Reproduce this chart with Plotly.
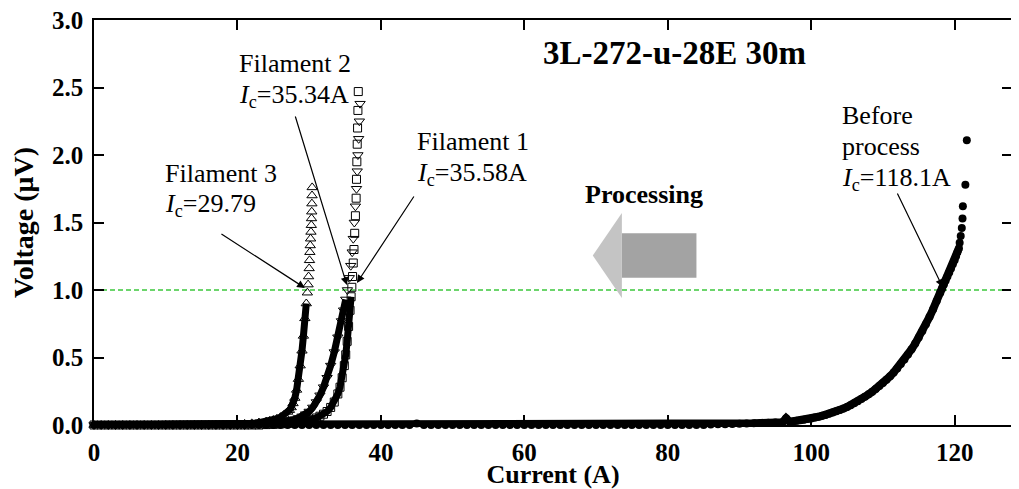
import plotly.graph_objects as go

# ---------------- data ----------------
before_I = [0, 1, 2, 3, 4, 5, 6, 7, 8, 9,
            10, 11, 12, 13, 14, 15, 16, 17, 18, 19,
            20, 21, 22, 23, 24, 25, 26, 27, 28, 29,
            30, 31, 32, 33, 34, 35, 36, 37, 38, 39,
            40, 41, 42, 43, 44, 45, 46, 47, 48, 49,
            50, 51, 52, 53, 54, 55, 56, 57, 58, 59,
            60, 61, 62, 63, 64, 65, 66, 67, 68, 69,
            70, 71, 72, 73, 74, 75, 76, 77, 78, 79,
            80, 81, 82, 83, 84, 85, 86, 87, 88, 89,
            90, 91, 92, 93, 94, 95,
            96, 96.5, 97, 97.5, 98, 98.5, 99, 99.5, 100, 100.5,
            101, 101.5, 102, 102.5, 103, 103.5, 104, 104.5, 105, 105.5,
            106, 106.5, 107, 107.5, 108, 108.5, 109, 109.5, 110, 110.5,
            111, 111.5, 112, 112.5, 113, 113.5, 114, 114.5, 115, 115.5,
            116, 116.5, 117, 117.5, 118,
            118.25, 118.5, 118.75, 119, 119.25, 119.5, 119.75, 120,
            120.2, 120.4, 120.6,
            120.7, 120.85, 121.0, 121.1, 121.15, 121.5, 121.7]
before_V = [0, 0, 0, 0, 0, 0, 0, 0, 0, 0,
            0, 0, 0, 0, 0, 0, 0, 0, 0, 0,
            0, 0, 0, 0, 0, 0, 0, 0, 0, 0,
            0, 0, 0, 0, 0, 0, 0, 0, 0, 0,
            0, 0, 0, 0, 0, 0.012, 0, 0, 0, 0,
            0, 0, 0, 0, 0, 0, 0, 0, 0, 0,
            0, 0, 0, 0, 0, 0, 0, 0, 0, 0,
            0, 0, 0, 0, 0, 0, 0, 0, 0, 0,
            0, 0, 0, 0, 0, 0, 0.004, 0.005, 0.006, 0.008,
            0.009, 0.011, 0.013, 0.015, 0.017, 0.019,
            0.021, 0.05, 0.025, 0.028, 0.031, 0.035, 0.039, 0.044, 0.049, 0.055,
            0.061, 0.068, 0.075, 0.083, 0.092, 0.101, 0.111, 0.122, 0.134, 0.147,
            0.161, 0.176, 0.192, 0.209, 0.227, 0.246, 0.266, 0.288, 0.311, 0.335,
            0.361, 0.389, 0.419, 0.451, 0.485, 0.522, 0.561, 0.603, 0.648, 0.696,
            0.747, 0.801, 0.858, 0.918, 0.98,
            1.01, 1.04, 1.07, 1.10, 1.13, 1.16, 1.19, 1.22,
            1.25, 1.28, 1.31,
            1.35, 1.40, 1.46, 1.53, 1.62, 1.78, 2.11]

# Filament 3 (open up-triangles)
fil3_I = [0, 1, 2, 3, 4, 5, 6, 7, 8, 9,
          10, 11, 12, 13, 14, 15, 16, 17, 18, 19,
          20, 21, 22, 23, 24, 24.5, 25, 25.5, 26, 26.5, 27,
          27.25, 27.5, 27.75, 28, 28.25, 28.5, 28.75, 29,
          29.2, 29.4, 29.6, 29.75, 29.85, 29.92, 30.0,
          30.05, 30.1, 30.15, 30.2, 30.25, 30.3,
          30.33, 30.36, 30.38, 30.4, 30.42]
fil3_V = [0, 0, 0, 0, 0, 0, 0, 0, 0, 0,
          0, 0, 0, 0, 0, 0, 0, 0, 0, 0,
          0.005, 0.008, 0.012, 0.018, 0.025, 0.03, 0.037, 0.046, 0.058, 0.074, 0.097,
          0.11, 0.13, 0.16, 0.20, 0.26, 0.34, 0.44, 0.55,
          0.66, 0.79, 0.90, 0.98, 1.04, 1.10, 1.16,
          1.22, 1.28, 1.33, 1.38, 1.43, 1.48,
          1.53, 1.58, 1.64, 1.70, 1.76]

# Filament 2 (open down-triangles)
fil2_I = [0, 1, 2, 3, 4, 5, 6, 7, 8, 9,
          10, 11, 12, 13, 14, 15, 16, 17, 18, 19, 20, 21,
          22, 23, 24, 25, 26, 27,
          27.5, 28, 28.5, 29, 29.5, 30,
          30.5, 31, 31.5, 32, 32.5, 33,
          33.5, 34, 34.5, 34.8, 35.1, 35.34,
          35.6, 35.8, 36.0, 36.15, 36.3, 36.45,
          36.6, 36.7, 36.8, 36.9, 37.0, 37.1]
fil2_V = [0, 0, 0, 0, 0, 0, 0, 0, 0, 0,
          0, 0, 0, 0, 0, 0, 0, 0, 0, 0, 0, 0,
          0.004, 0.007, 0.010, 0.014, 0.020, 0.028,
          0.034, 0.042, 0.052, 0.064, 0.080, 0.10,
          0.13, 0.17, 0.22, 0.28, 0.35, 0.44,
          0.54, 0.65, 0.77, 0.85, 0.93, 1.00,
          1.09, 1.18, 1.28, 1.38, 1.50, 1.62,
          1.75, 1.88, 2.00, 2.12, 2.25, 2.38]

# Filament 1 (open squares)
fil1_I = [0, 1, 2, 3, 4, 5, 6, 7, 8, 9,
          10, 11, 12, 13, 14, 15, 16, 17, 18, 19, 20, 21, 22, 23,
          24, 25, 26, 27, 28, 29,
          30, 30.5, 31, 31.5, 32, 32.5,
          33, 33.5, 34, 34.3, 34.6, 34.9,
          35.1, 35.3, 35.5, 35.7, 35.85, 35.95,
          36.05, 36.15, 36.25, 36.35, 36.45, 36.55,
          36.6, 36.65, 36.7, 36.75, 36.8, 36.85]
fil1_V = [0, 0, 0, 0, 0, 0, 0, 0, 0, 0,
          0, 0, 0, 0, 0, 0, 0, 0, 0, 0, 0, 0, 0, 0,
          0.003, 0.005, 0.008, 0.012, 0.017, 0.024,
          0.034, 0.042, 0.052, 0.065, 0.080, 0.10,
          0.13, 0.17, 0.23, 0.28, 0.35, 0.44,
          0.52, 0.62, 0.73, 0.85, 0.95, 1.02,
          1.10, 1.20, 1.30, 1.42, 1.55, 1.68,
          1.82, 1.95, 2.08, 2.20, 2.33, 2.47]

x_ticks = [0, 20, 40, 60, 80, 100, 120]
y_ticks = [0.0, 0.5, 1.0, 1.5, 2.0, 2.5, 3.0]
y_ticktext = ["0.0", "0.5", "1.0", "1.5", "2.0", "2.5", "3.0"]
criterion_V = 1.0

# ---------------- figure ----------------
SERIF = "Liberation Serif, Times New Roman, serif"
fig = go.Figure()


def dense_part(I, V, vmax):
    xs, ys = [], []
    for i, v in zip(I, V):
        if v <= vmax:
            xs.append(i)
            ys.append(v)
    return xs, ys


# thick bands where the measured points are packed densely
for I, V, vmax, w in [(before_I, before_V, 1.32, 8),
                      (fil3_I, fil3_V, 0.95, 7),
                      (fil2_I, fil2_V, 0.95, 7),
                      (fil1_I, fil1_V, 0.95, 7)]:
    xs, ys = dense_part(I, V, vmax)
    fig.add_trace(go.Scatter(x=xs, y=ys, mode="lines",
                             line=dict(color="black", width=w),
                             hoverinfo="skip", showlegend=False))

fig.add_trace(go.Scatter(x=before_I, y=before_V, mode="markers",
                         marker=dict(symbol="circle", size=8, color="black"),
                         cliponaxis=False, showlegend=False))
for I, V, sym, sz in [(fil3_I, fil3_V, "triangle-up-open", 9),
                      (fil2_I, fil2_V, "triangle-down-open", 9),
                      (fil1_I, fil1_V, "square-open", 8)]:
    fig.add_trace(go.Scatter(x=I, y=V, mode="markers",
                             marker=dict(symbol=sym, size=sz, color="black",
                                         line=dict(width=1, color="black")),
                             cliponaxis=False, showlegend=False))

# 1 uV criterion
fig.add_shape(type="line", xref="x", yref="y", x0=0, x1=128,
              y0=criterion_V, y1=criterion_V, layer="below",
              line=dict(color="#3cc83c", width=1.6, dash="5px,3px"))

# "Processing" block arrow
fig.add_shape(type="rect", xref="x", yref="y", x0=73.6, x1=84.0,
              y0=1.09, y1=1.42, fillcolor="#a3a3a3", line=dict(width=0),
              layer="below")
fig.add_shape(type="path", xref="x", yref="y",
              path="M 73.6 1.57 L 69.55 1.256 L 73.6 0.94 Z",
              fillcolor="#c4c4c4", line=dict(width=0), layer="below")


def text(x, y, s, size=26, bold=False, xanchor="left"):
    fig.add_annotation(x=x, y=y, xref="x", yref="y", text=s, showarrow=False,
                       xanchor=xanchor, yanchor="middle",
                       font=dict(family=SERIF, size=size, color="black",
                                 weight="bold" if bold else "normal"))


def arrow(tx, ty, hx, hy):
    fig.add_annotation(x=hx, y=hy, ax=tx, ay=ty, xref="x", yref="y",
                       axref="x", ayref="y", text="", showarrow=True,
                       arrowhead=2, arrowsize=1.3, arrowwidth=1.2,
                       arrowcolor="black", standoff=0)


text(80.98, 2.756, "3L-272-u-28E 30m", size=33, bold=True, xanchor="center")
text(76.66, 1.704, "Processing", size=26, bold=True, xanchor="center")

text(19.93, 2.68, "Filament 2")
text(19.93, 2.44, "<i>I</i><sub>c</sub>=35.34A")
arrow(28.01, 2.296, 35.26, 1.037)

text(9.62, 1.86, "Filament 3")
text(9.62, 1.63, "<i>I</i><sub>c</sub>=29.79")
arrow(17.56, 1.422, 29.41, 1.015)

text(44.74, 2.10, "Filament 1")
text(44.74, 1.86, "<i>I</i><sub>c</sub>=35.58A")
arrow(44.74, 1.704, 36.66, 1.052)

text(103.97, 2.29, "Before")
text(103.97, 2.06, "process")
text(103.97, 1.82, "<i>I</i><sub>c</sub>=118.1A")
arrow(111.92, 1.726, 118.33, 1.022)

axis_common = dict(ticks="inside", ticklen=10, tickwidth=1.5, tickcolor="black",
                   showline=True, linecolor="black", linewidth=1.5,
                   mirror="ticks", showgrid=False, zeroline=False, automargin=False,
                   ticklabeloverflow="allow",
                   tickfont=dict(family=SERIF, size=25, color="black", weight="bold"))

# the page body adds an 8px offset, so the figure is 8px smaller and margins shifted
fig.update_layout(
    width=1011, height=481, autosize=False,
    margin=dict(l=86, r=7, t=12, b=64),
    paper_bgcolor="white", plot_bgcolor="white",
    font=dict(family=SERIF, color="black"),
    showlegend=False,
    xaxis=dict(range=[0, 128], tickvals=x_ticks, ticklabelstandoff=4,
               title=dict(text="Current (A)", standoff=0,
                          font=dict(family=SERIF, size=26, color="black", weight="bold")),
               **axis_common),
    yaxis=dict(range=[0, 3], tickvals=y_ticks, ticktext=y_ticktext, ticklabelstandoff=4,
               title=dict(text="Voltage (μV)", standoff=10,
                          font=dict(family=SERIF, size=28, color="black", weight="bold")),
               **axis_common),
)

fig.write_html("out.html")
